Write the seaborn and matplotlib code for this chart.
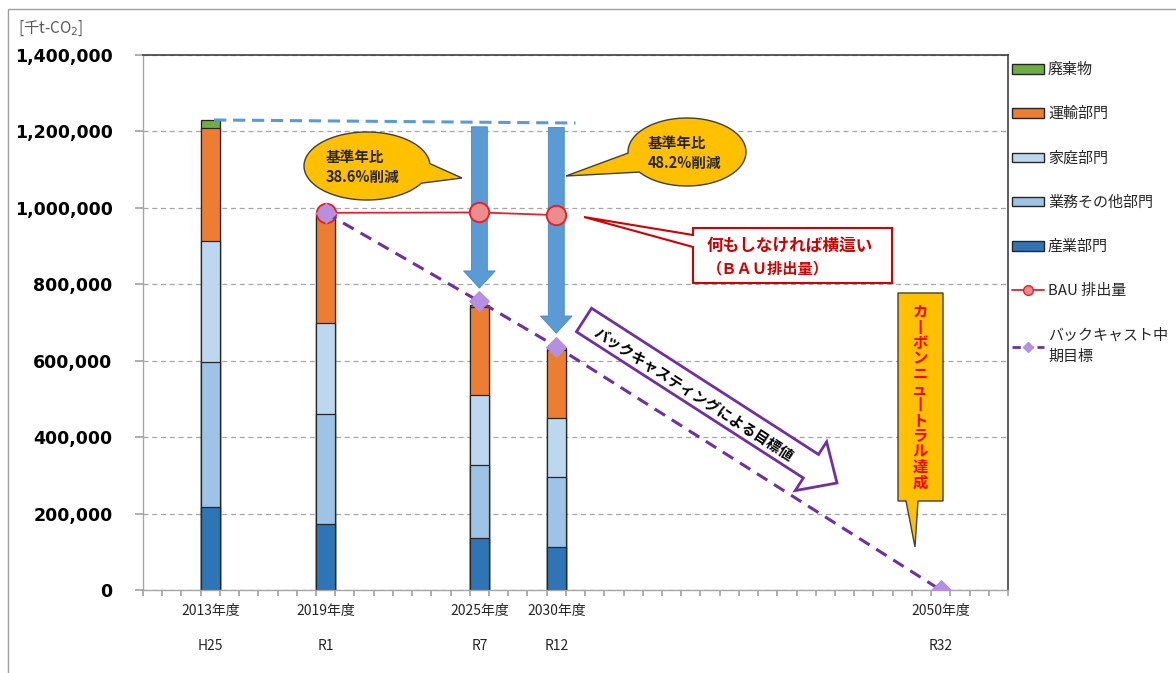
import matplotlib
matplotlib.use("Agg")
import matplotlib.pyplot as plt
import matplotlib.transforms as mtransforms
from matplotlib.patches import Patch, Polygon, Rectangle, FancyArrow
from matplotlib.lines import Line2D
import numpy as np
import pandas as pd
import seaborn as sns

# ---- data (千t-CO2) ----
years = ["2013年度", "2019年度", "2025年度", "2030年度", "2050年度"]
wareki = ["H25", "R1", "R7", "R12", "R32"]
bar_years = ["2013年度", "2019年度", "2025年度", "2030年度"]
sangyo = [216000, 173000, 135000, 112000]   # 産業部門
gyomu = [380000, 287000, 192000, 185000]    # 業務その他部門
katei = [317000, 238000, 183000, 154000]    # 家庭部門
unyu = [295000, 283000, 231000, 177000]     # 運輸部門
haiki = [22000, 5000, 4000, 4000]           # 廃棄物
bau_years = ["2019年度", "2025年度", "2030年度"]
bau = [987000, 988000, 981000]
target_years = ["2019年度", "2025年度", "2030年度", "2050年度"]
target = [987000, 755000, 637000, 0]
reduction_text = ["基準年比\n38.6%削減", "基準年比\n48.2%削減"]

layers = ["産業部門", "業務その他部門", "家庭部門", "運輸部門", "廃棄物"]
colors = {"産業部門": "#2E75B6", "業務その他部門": "#9DC3E6", "家庭部門": "#BDD7EE",
          "運輸部門": "#ED7D31", "廃棄物": "#70AD47"}

# layout: Excel style category axis with 45 slots
N_SLOTS = 45
slot_of = {"2013年度": 3, "2019年度": 9, "2025年度": 17, "2030年度": 21, "2050年度": 41}

sns.set_theme(style="white")
plt.rcParams["font.family"] = ["Noto Sans CJK JP", "DejaVu Sans"]

DPI = 100
W, H = 1176, 673
fig = plt.figure(figsize=(W / DPI, H / DPI), dpi=DPI)
ax = fig.add_axes([143 / W, 1 - 590 / H, 865 / W, 535 / H])
pxT = mtransforms.Affine2D().scale(1 / DPI, -1 / DPI).translate(0, H / DPI) + fig.dpi_scale_trans

# stacked bars: draw cumulative totals from the top layer down
df = pd.DataFrame({"year": bar_years, "産業部門": sangyo, "業務その他部門": gyomu,
                   "家庭部門": katei, "運輸部門": unyu, "廃棄物": haiki})
cum = df[layers].cumsum(axis=1)
slot_to_year = {v: k for k, v in slot_of.items()}
order = [slot_to_year.get(i, f"_s{i}") for i in range(N_SLOTS)]
for layer in reversed(layers):
    sns.barplot(x=df["year"], y=cum[layer], order=order, color=colors[layer], saturation=1,
                width=1.0, edgecolor="#262626", linewidth=0.9, errorbar=None, ax=ax, zorder=2)

# reference level (2013 total) and the blue arrows
total_2013 = cum["廃棄物"].iloc[0]
x0 = slot_of["2013年度"] + 0.2
x1 = slot_of["2030年度"] + 1.0
ax.plot([x0, x1], [total_2013, total_2013 - 8000], color="#5B9BD5", lw=2.2,
        dashes=(4, 2.2), zorder=3)
for yr in ["2025年度", "2030年度"]:
    xs = slot_of[yr]
    top = total_2013 - 8000 * (xs - x0) / (x1 - x0) - 12000
    tip = target[target_years.index(yr)] + 35000
    ax.add_patch(FancyArrow(xs, top, 0, -(top - tip), width=0.83, head_width=1.65,
                            head_length=45000, length_includes_head=True,
                            facecolor="#5B9BD5", edgecolor="#4A8AC4", lw=0.6, zorder=3))

# BAU line
sns.lineplot(x=[slot_of[y] for y in bau_years], y=bau, color="#E2222C", lw=1.3,
             marker="o", markersize=14, markerfacecolor="#EC8C8C", markeredgecolor="#E2222C",
             markeredgewidth=1.4, ax=ax, zorder=4)
# backcast target line
sns.lineplot(x=[slot_of[y] for y in target_years], y=target, color="#7030A0", lw=2.2,
             marker="D", markersize=10, markerfacecolor="#B58FE0", markeredgecolor="#B58FE0",
             ax=ax, zorder=5)
ax.get_lines()[-1].set_dashes((4, 2.6))

# axes styling
ax.set_xlim(-0.5, N_SLOTS - 0.5)
ax.set_ylim(0, 1400000)
ax.set_xticks(np.arange(N_SLOTS + 1) - 0.5)
ax.set_xticklabels([])
yt = list(range(0, 1400001, 200000))
ax.set_yticks(yt)
ax.set_yticklabels([f"{v:,}" for v in yt], fontweight="bold", fontsize=12.5,
                   family="DejaVu Sans", color="#000000")
ax.set_xlabel("")
ax.set_ylabel("")
ax.tick_params(axis="x", bottom=True, length=4, color="#A6A6A6", direction="out")
ax.tick_params(axis="y", left=True, length=6, color="#A6A6A6", direction="out", pad=16)
ax.yaxis.grid(True, color="#A6A6A6", linestyle=(0, (4, 3)), lw=0.9)
ax.set_axisbelow(True)
for s in ["left", "bottom"]:
    ax.spines[s].set_color("#A6A6A6")
    ax.spines[s].set_linewidth(1)
for s in ["top", "right"]:
    ax.spines[s].set_color("#404040")
    ax.spines[s].set_linewidth(1.2)

# year labels
lab_tr = mtransforms.blended_transform_factory(ax.transData, ax.transAxes)
for yr, wk in zip(years, wareki):
    ax.text(slot_of[yr], -0.04, yr, transform=lab_tr, ha="center", va="center",
            fontsize=10, color="#262626")
    ax.text(slot_of[yr], -0.104, wk, transform=lab_tr, ha="center", va="center",
            fontsize=10, color="#262626")

# unit label
fig.text(18, 28, "[千t-CO$_2$]", transform=pxT, ha="left", va="center", fontsize=11,
         color="#595959")


def bubble(cx, cy, a, b, tip, half=0.3):
    phi = np.arctan2(tip[1] - cy, tip[0] - cx)
    t0 = np.arctan2(a * np.sin(phi), b * np.cos(phi))
    t = np.linspace(t0 + half, t0 + 2 * np.pi - half, 160)
    pts = np.column_stack([cx + a * np.cos(t), cy + b * np.sin(t)])
    pts = np.vstack([pts, tip])
    fig.add_artist(Polygon(pts, closed=True, facecolor="#FFC000", edgecolor="#3F3F3F",
                           lw=1.0, transform=pxT, zorder=6))


# reduction callouts
bubble(367, 166, 63, 34, (462, 178))
fig.text(326, 167, reduction_text[0], transform=pxT, ha="left", va="center", fontsize=10.5,
         fontweight="bold", color="#262626", linespacing=1.35, zorder=7)
bubble(687, 152, 59, 34, (566, 176))
fig.text(648, 153, reduction_text[1], transform=pxT, ha="left", va="center", fontsize=10.5,
         fontweight="bold", color="#262626", linespacing=1.35, zorder=7)

# BAU callout box
bau_box = [(693, 228), (892, 228), (892, 283), (693, 283), (693, 247), (584, 217), (693, 235)]
fig.add_artist(Polygon(bau_box, closed=True, facecolor="white", edgecolor="#D00000", lw=1.5,
                       transform=pxT, zorder=6))
fig.text(790, 246, "何もしなければ横這い", transform=pxT, ha="center", va="center",
         fontsize=12, fontweight="bold", color="#D00000", zorder=7)
fig.text(768, 268, "（ＢＡＵ排出量）", transform=pxT, ha="center", va="center",
         fontsize=11, fontweight="bold", color="#D00000", zorder=7)

# backcasting arrow
P0 = np.array([584.0, 320.0])
P1 = np.array([837.0, 483.0])
u = (P1 - P0) / np.linalg.norm(P1 - P0)
n = np.array([-u[1], u[0]])
Pb = P1 - u * 31
arrow_pts = [P0 + n * 14, Pb + n * 14, Pb + n * 29, P1, Pb - n * 29, Pb - n * 14, P0 - n * 14]
fig.add_artist(Polygon(arrow_pts, closed=True, facecolor="white", edgecolor="#7030A0", lw=2,
                       transform=pxT, zorder=6))
ang = np.degrees(np.arctan2(P1[1] - P0[1], P1[0] - P0[0]))
fig.text(693, 395, "バックキャスティングによる目標値", transform=pxT, ha="center", va="center",
         rotation=-ang, rotation_mode="anchor", fontsize=10.5, fontweight="bold",
         color="#000000", zorder=7)

# carbon neutral callout
cn_box = [(898, 293), (943, 293), (943, 501), (918, 501), (915, 547), (906, 501), (898, 501)]
fig.add_artist(Polygon(cn_box, closed=True, facecolor="#FFC000", edgecolor="#404040", lw=1.0,
                       transform=pxT, zorder=6))
for i, ch in enumerate("カ丨ボンニュ丨トラル達成"):
    fig.text(920, 312 + i * 15.5, ch, transform=pxT, ha="center", va="center", fontsize=11,
             fontweight="bold", color="#FF0000", zorder=7)

# legend
handles = [Patch(facecolor=colors[l], edgecolor="#262626", lw=1) for l in reversed(layers)]
handles += [Line2D([], [], color="#E2222C", lw=1.3, marker="o", markersize=7,
                   markerfacecolor="#EC8C8C", markeredgecolor="#E2222C"),
            Line2D([], [], color="#7030A0", lw=2, ls=(0, (3, 1.5)), marker="D", markersize=5,
                   markerfacecolor="#B58FE0", markeredgecolor="#B58FE0")]
labels = list(reversed(layers)) + ["BAU 排出量", "バックキャスト中\n期目標"]
leg = fig.legend(handles, labels, loc="upper left", bbox_to_anchor=(1012 / W, 1 - 63 / H),
                 frameon=False, fontsize=10.8, labelspacing=2.0, handlelength=2.1,
                 handleheight=0.6, handletextpad=0.3, borderaxespad=0, borderpad=0,
                 labelcolor="#262626")
leg.get_texts()[-1].set_linespacing(1.7)

# outer frame
fig.add_artist(Rectangle((8, 9), 3000, 3000, fill=False, edgecolor="#A0A0A0", lw=1,
                         transform=pxT))

fig.savefig("out.png", dpi=DPI)
